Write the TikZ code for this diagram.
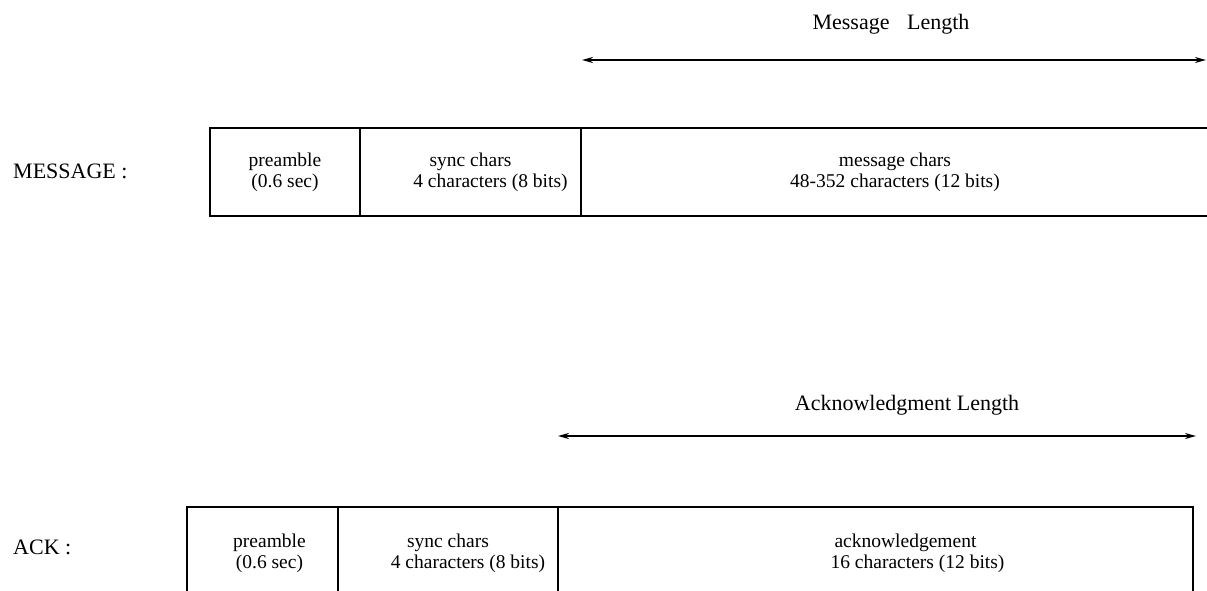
\documentclass[tikz,border=0pt]{standalone}
\usepackage{fontspec}
\setmainfont{Liberation Serif}
\usetikzlibrary{arrows.meta,positioning}

\begin{document}
\begin{tikzpicture}[
    x=1pt, y=-1pt,
    font=\fontsize{19.5}{21}\selectfont,
    cell/.style={draw, line width=1.2pt, align=center, inner sep=0pt, outer sep=0pt},
    open/.style={align=center, inner sep=0pt, outer sep=0pt},
    lbl/.style={anchor=west, inner sep=0pt, font=\fontsize{22}{26}\selectfont},
    arr/.style={{Stealth[length=11pt, width=6pt]}-{Stealth[length=11pt, width=6pt]}, line width=1.8pt},
    node distance=0pt]
  \useasboundingbox (0,0) rectangle (1207,590);
  \clip (0,0) rectangle (1207,590);
  % message frame
  \node[lbl] (mlab) at (13,171) {MESSAGE :};
  \node[cell, minimum width=150pt, minimum height=88pt] (mpre) at (285,172) {preamble\\(0.6 sec)};
  \node[cell, minimum width=221pt, minimum height=88pt, right=of mpre] (msyn) {sync chars\\\hspace*{40pt}4 characters (8 bits)};
  \node[open, minimum width=628pt, minimum height=88pt, right=of msyn] (mchr) {message chars\\48-352 characters (12 bits)};
  \draw[line width=1.2pt] (mchr.north east) -- (mchr.north west) -- (mchr.south west) -- (mchr.south east);
  \node[lbl, anchor=center] (mlen) at (891,24) {Message\hspace{0.8em}Length};
  \coordinate (ml0) at (582,60);
  \coordinate (ml1) at (1206,60);
  \draw[arr] (ml0) -- (ml1);
  % acknowledgement frame
  \node[lbl] (alab) at (13,547) {ACK :};
  \node[cell, minimum width=151pt, minimum height=92pt] (apre) at (262.5,553) {\hspace*{14pt}preamble\\\hspace*{14pt}(0.6 sec)};
  \node[cell, minimum width=220pt, minimum height=92pt, right=of apre] (asyn) {sync chars\\\hspace*{40pt}4 characters (8 bits)};
  \node[cell, minimum width=635pt, minimum height=92pt, right=of asyn] (aack) {\hspace*{60pt}acknowledgement\\\hspace*{84pt}16 characters (12 bits)};
  \node[lbl, anchor=center] (alen) at (907,405) {Acknowledgment Length};
  \coordinate (al0) at (558,436);
  \coordinate (al1) at (1196,436);
  \draw[arr] (al0) -- (al1);
\end{tikzpicture}
\end{document}
